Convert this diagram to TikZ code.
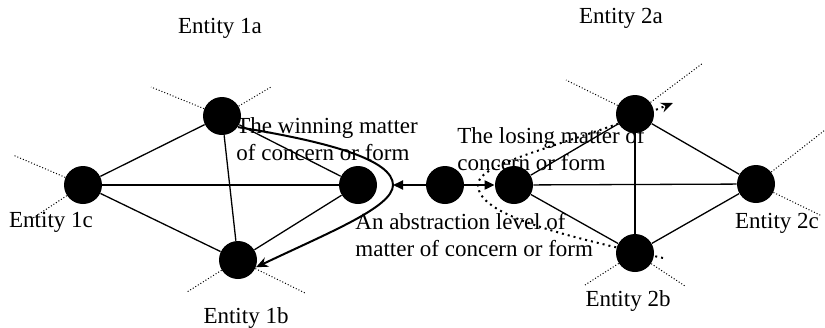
\documentclass[tikz,border=0pt]{standalone}
\usepackage{fontspec}
\setmainfont{Liberation Serif}
\usepackage{tikz}
\usetikzlibrary{arrows.meta,backgrounds}

\begin{document}
\begin{tikzpicture}[x=0.5pt, y=-0.5pt,
    entity/.style={circle, fill=black, minimum size=19pt, inner sep=0pt},
    link/.style={line width=0.65pt},
    ray/.style={densely dotted, line width=0.5pt},
    txt/.style={inner sep=0pt, align=left, font=\fontsize{11.5}{13.6}\selectfont},
    flow/.style={line width=1pt}]
    \useasboundingbox (0,0) rectangle (825,327);

    % entity 1
    \node[entity] (n1a) at (222,116) {};
    \node[entity] (n1b) at (238,260) {};
    \node[entity] (n1c) at (83,185) {};
    \node[entity] (n1d) at (358,185) {};

    % abstraction level
    \node[entity] (mid) at (445,185) {};

    % entity 2
    \node[entity] (n2a) at (635,114) {};
    \node[entity] (n2b) at (635,253) {};
    \node[entity] (n2c) at (756,184) {};
    \node[entity] (n2d) at (514,185) {};

    \node[txt] at (220,28) {Entity 1a};
    \node[txt] at (621,18) {Entity 2a};
    \node[txt] at (51,222) {Entity 1c};
    \node[txt] at (777,223) {Entity 2c};
    \node[txt] at (246,318) {Entity 1b};
    \node[txt] at (628,301) {Entity 2b};

    \node[txt, anchor=west] at (236,139) {The winning matter\\of concern or form};
    \node[txt, anchor=west] at (457,149) {The losing matter of\\concern or form};
    \node[txt, anchor=west] at (355,235) {An abstraction level of\\matter of concern or form};

    \coordinate (apex) at (393,185);
    \coordinate (lstart) at (663,258);
    \coordinate (lend) at (673,103);

    \begin{pgfonlayer}{background}
        \draw[link] (n1a) -- (n1c);
        \draw[link] (n1a) -- (n1d);
        \draw[link] (n1a) -- (n1b);
        \draw[link] (n1c) -- (n1d);
        \draw[link] (n1c) -- (n1b);
        \draw[link] (n1d) -- (n1b);

        \draw[link] (n2d) -- (n2a);
        \draw[link] (n2d) -- (n2c);
        \draw[link] (n2d) -- (n2b);
        \draw[link] (n2a) -- (n2b);
        \draw[link] (n2a) -- (n2c);
        \draw[link] (n2b) -- (n2c);

        % dotted rays
        \draw[ray] (n1a) -- (151,87);
        \draw[ray] (n1a) -- (271,87);
        \draw[ray] (n1c) -- (13,155);
        \draw[ray] (n1c) -- (33,218);
        \draw[ray] (n1b) -- (187,292);
        \draw[ray] (n1b) -- (305,293);
        \draw[ray] (n2a) -- (566,80);
        \draw[ray] (n2a) -- (703,63);
        \draw[ray] (n2c) -- (825,130);
        \draw[ray] (n2c) -- (822,216);
        \draw[ray] (n2b) -- (585,285);
        \draw[ray] (n2b) -- (685,286);

        % losing matter
        \draw[flow, dotted, -{Stealth[length=6pt,width=5pt]}] (lstart)
            .. controls (560,235) and (478,215) .. (478,185)
            .. controls (478,162) and (560,148) .. (lend);
    \end{pgfonlayer}

    % winning matter
    \draw[flow, -{Stealth[length=6pt,width=5pt]}] (n1a.-35)
        .. controls (330,142) and (393,160) .. (apex)
        .. controls (393,207) and (330,232) .. (n1b.-22);

    \draw[flow, -{Triangle[length=5pt,width=4.5pt]}] (mid) -- (apex);
    \draw[flow, -{Triangle[length=5pt,width=4.5pt]}] (mid) -- (n2d);
\end{tikzpicture}
\end{document}
